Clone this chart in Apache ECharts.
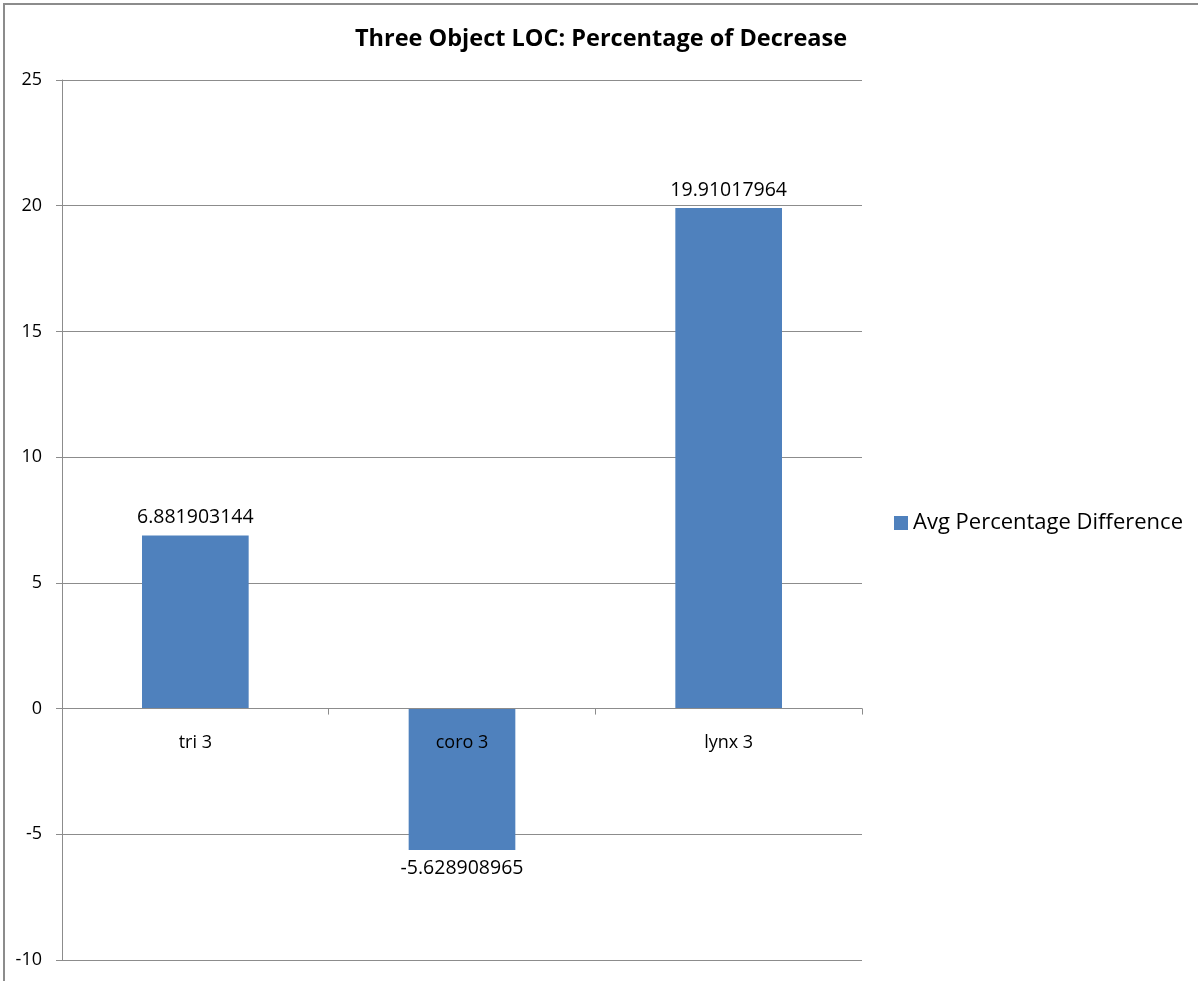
<!DOCTYPE html>
<html>
<head>
<meta charset="utf-8">
<script src="https://cdn.jsdelivr.net/npm/echarts@6/dist/echarts.min.js"></script>
<style>
  html, body { margin: 0; padding: 0; background: #fff; }
  #frame { position: absolute; left: 3px; top: 3px; width: 1195px; height: 978px;
           border-top: 2px solid #8c8c8c; border-left: 2px solid #8c8c8c; box-sizing: border-box; }
  #chart { position: absolute; left: 0; top: 0; width: 1198px; height: 981px; }
</style>
</head>
<body>
<div id="frame"></div>
<div id="chart"></div>
<script>
const categories = ["tri 3", "coro 3", "lynx 3"];
const avgPctDiff = [6.881903144, -5.628908965, 19.91017964];
const seriesName = "Avg Percentage Difference";
const yMin = -10;
const yMax = 25;
const yStep = 5;

const font = "'Open Sans', 'Noto Sans', sans-serif";
const gridColor = "#8c8c8c";

// negative bars carry their label underneath
const barData = avgPctDiff.map((v) => ({
  value: v,
  label: { position: v < 0 ? "bottom" : "top" }
}));

const myChart = echarts.init(document.getElementById("chart"));
myChart.setOption({
  animation: false,
  title: {
    text: "Three Object LOC: Percentage of Decrease",
    left: 596,
    textAlign: "center",
    top: 22,
    textStyle: { fontFamily: font, fontSize: 23.5, fontWeight: "bold", color: "#000" }
  },
  legend: {
    left: 889,
    top: 507,
    itemWidth: 14,
    itemHeight: 14,
    itemGap: 6,
    icon: "rect",
    textStyle: { fontFamily: font, fontSize: 22, color: "#000" },
    data: [seriesName]
  },
  grid: { left: 62, right: 336, top: 80, bottom: 21, containLabel: false, outerBoundsMode: "none" },
  xAxis: {
    type: "category",
    data: categories,
    position: "bottom",
    z: 5,
    axisLine: { onZero: false, lineStyle: { color: gridColor, width: 1 } },
    axisTick: { show: true, length: 6, lineStyle: { color: gridColor } },
    axisLabel: { fontFamily: font, fontSize: 18, color: "#000", margin: 25 },
    splitLine: { show: false }
  },
  yAxis: {
    type: "value",
    min: yMin,
    max: yMax,
    interval: yStep,
    axisLine: { show: true, lineStyle: { color: gridColor, width: 1 } },
    axisTick: { show: true, length: 6, lineStyle: { color: gridColor } },
    axisLabel: { fontFamily: font, fontSize: 18, color: "#000", margin: 20 },
    splitLine: { show: true, lineStyle: { color: gridColor, width: 1 } }
  },
  series: [{
    name: seriesName,
    type: "bar",
    data: barData,
    barWidth: "40%",
    itemStyle: { color: "#4f81bd" },
    label: {
      show: true,
      distance: 8,
      fontFamily: font,
      fontSize: 19.5,
      color: "#000",
      formatter: (p) => String(p.value)
    }
  }]
});

// lift the category axis (line, ticks and labels) up to the zero line
const zeroPx = myChart.convertToPixel({ yAxisIndex: 0 }, 0);
const bottomPx = myChart.convertToPixel({ yAxisIndex: 0 }, yMin);
myChart.setOption({ xAxis: { offset: zeroPx - bottomPx } });
</script>
</body>
</html>
